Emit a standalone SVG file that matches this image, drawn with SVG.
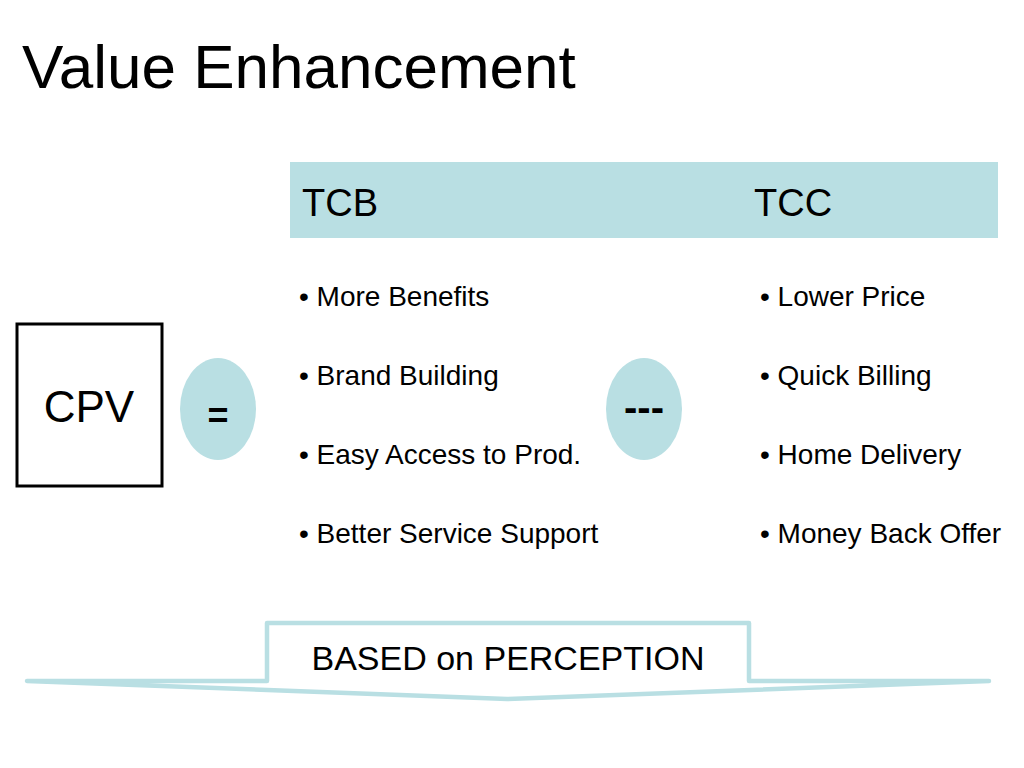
<svg xmlns="http://www.w3.org/2000/svg" width="1024" height="768" viewBox="0 0 1024 768">
<style>
text{font-family:"Liberation Sans",Arial,sans-serif;fill:#000}
.item{font-size:28px}
.hdr{font-size:38px}
.blue{fill:#B9DFE3}
</style>
<rect x="0" y="0" width="1024" height="768" fill="#fff"/>
<text id="title" x="22" y="88" font-size="62">Value Enhancement</text>
<g id="header">
<rect class="blue" x="290" y="162" width="708" height="76"/>
<text class="hdr" x="302" y="216">TCB</text>
<text class="hdr" x="754" y="216">TCC</text>
</g>
<g id="cpv">
<rect x="17" y="324" width="145" height="162" fill="#fff" stroke="#000" stroke-width="3"/>
<text x="89" y="422" font-size="44" text-anchor="middle">CPV</text>
</g>
<g id="equals">
<ellipse class="blue" cx="218" cy="409" rx="38" ry="51"/>
<text x="218" y="428" font-size="36" font-weight="bold" text-anchor="middle">=</text>
</g>
<g id="minus">
<ellipse class="blue" cx="644" cy="409" rx="38" ry="51"/>
<text x="644" y="421" font-size="40" font-weight="bold" text-anchor="middle">---</text>
</g>
<g id="tcb-list">
<text class="item" x="299" y="306">• More Benefits</text>
<text class="item" x="299" y="385">• Brand Building</text>
<text class="item" x="299" y="464">• Easy Access to Prod.</text>
<text class="item" x="299" y="543">• Better Service Support</text>
</g>
<g id="tcc-list">
<text class="item" x="760" y="306">• Lower Price</text>
<text class="item" x="760" y="385">• Quick Billing</text>
<text class="item" x="760" y="464">• Home Delivery</text>
<text class="item" x="760" y="543">• Money Back Offer</text>
</g>
<g id="perception">
<polygon points="27,681 267,681 267,623 749,623 749,681 989,681 507,699" fill="#fff" stroke="#B9DFE3" stroke-width="4.5" stroke-linejoin="round"/>
<text x="508" y="670" font-size="34" text-anchor="middle">BASED on PERCEPTION</text>
</g>
<g id="connectors"></g>
</svg>
